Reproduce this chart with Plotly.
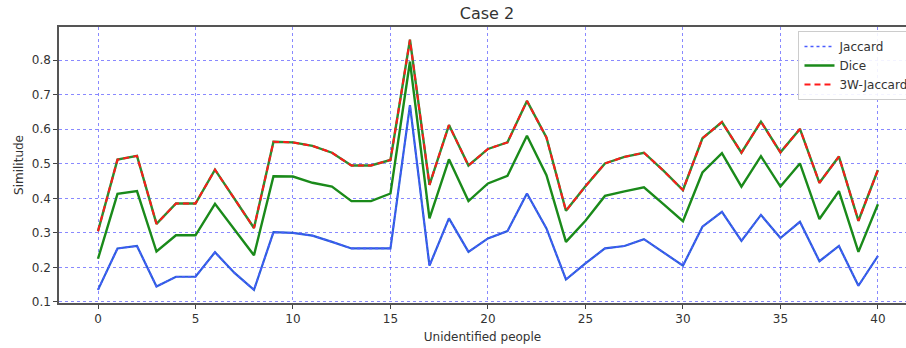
import plotly.graph_objects as go

people = list(range(41))
jaccard = [0.135, 0.255, 0.262, 0.145, 0.173, 0.173, 0.244, 0.184, 0.135, 0.302,
           0.300, 0.292, 0.274, 0.255, 0.255, 0.255, 0.670, 0.205, 0.342, 0.245,
           0.284, 0.305, 0.414, 0.313, 0.165, 0.212, 0.255, 0.262, 0.282, 0.244,
           0.205, 0.318, 0.361, 0.277, 0.352, 0.285, 0.332, 0.218, 0.262, 0.147,
           0.233]
dice = [0.225, 0.413, 0.421, 0.246, 0.293, 0.293, 0.384, 0.310, 0.235, 0.464,
        0.463, 0.445, 0.434, 0.392, 0.392, 0.414, 0.796, 0.342, 0.513, 0.392,
        0.443, 0.465, 0.581, 0.467, 0.274, 0.335, 0.407, 0.420, 0.432, 0.383,
        0.334, 0.475, 0.531, 0.434, 0.522, 0.434, 0.501, 0.340, 0.421, 0.245,
        0.383]
w3_jaccard = [0.305, 0.512, 0.523, 0.326, 0.385, 0.385, 0.483, 0.400, 0.314, 0.564,
              0.562, 0.552, 0.532, 0.495, 0.495, 0.511, 0.859, 0.439, 0.612, 0.495,
              0.543, 0.562, 0.682, 0.576, 0.364, 0.435, 0.501, 0.520, 0.532, 0.480,
              0.424, 0.574, 0.621, 0.532, 0.622, 0.533, 0.601, 0.445, 0.521, 0.335,
              0.482]
x_ticks = [0, 5, 10, 15, 20, 25, 30, 35, 40]
y_ticks = [0.1, 0.2, 0.3, 0.4, 0.5, 0.6, 0.7, 0.8]

fig = go.Figure()
# underlays (visible through the gaps of the patterned lines)
fig.add_trace(go.Scatter(x=people, y=jaccard, mode="lines", showlegend=False, hoverinfo="skip",
                         line=dict(color="#2a5fd8", width=2.2)))
fig.add_trace(go.Scatter(x=people, y=w3_jaccard, mode="lines", showlegend=False, hoverinfo="skip",
                         line=dict(color="#2e8b2e", width=2.4)))
fig.add_trace(go.Scatter(x=people, y=jaccard, mode="lines", name="Jaccard",
                         line=dict(color="#4a5cff", width=1.6, dash="dot")))
fig.add_trace(go.Scatter(x=people, y=dice, mode="lines", name="Dice",
                         line=dict(color="#1a8a1a", width=2.4)))
fig.add_trace(go.Scatter(x=people, y=w3_jaccard, mode="lines", name="3W-Jaccard",
                         line=dict(color="#ff1a1a", width=2, dash="6px,4px")))

grid_col = "rgba(40,40,255,0.55)"
fig.update_layout(
    width=906, height=348,
    margin=dict(l=59, r=0, t=27, b=45, autoexpand=False),
    paper_bgcolor="white", plot_bgcolor="white",
    font=dict(family="DejaVu Sans", size=12, color="#333"),
    title=dict(text="Case 2", x=487/906, xanchor="center", y=1 - 13/348, yanchor="middle",
               font=dict(size=16, color="#333")),
    legend=dict(x=791/906, xanchor="left", y=1 - 4/276, yanchor="top",
                bgcolor="rgba(255,255,255,0.9)", bordercolor="#ccc", borderwidth=1,
                font=dict(size=12, color="#333"), itemwidth=30, tracegroupgap=0),
    showlegend=True,
)
fig.update_xaxes(range=[-2, 41.44], tickvals=x_ticks, ticks="outside", ticklen=4, tickcolor="#444",
                 showline=True, linecolor="#555", linewidth=1.5, mirror=True, automargin=False,
                 tickfont=dict(size=12),
                 showgrid=True, gridcolor=grid_col, griddash="dot", gridwidth=1, zeroline=False,
                 title=dict(text="Unidentified people", standoff=7, font=dict(size=12, color="#333")))
fig.update_yaxes(range=[0.097, 0.896], tickvals=y_ticks, tickformat=".1f", ticks="outside", ticklen=4,
                 tickcolor="#444", showline=True, linecolor="#555", linewidth=1.5, mirror=False,
                 automargin=False, tickfont=dict(size=12),
                 showgrid=True, gridcolor=grid_col, griddash="dot", gridwidth=1, zeroline=False,
                 title=dict(text="Similitude", standoff=6, font=dict(size=12, color="#333")))

fig.write_html("out.html", config={"displayModeBar": False},
               post_script="document.body.style.margin='0px';")
